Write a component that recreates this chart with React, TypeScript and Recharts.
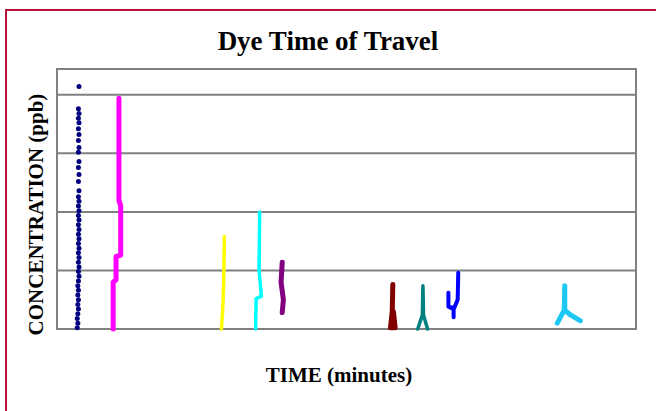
import { ScatterChart, Scatter, XAxis, YAxis, ReferenceArea, ReferenceLine } from "recharts";

// readings per station, x = time (min), y = concentration (ppb)
const station1 = [
  { x: 3.8, y: 20.7 }, { x: 3.7, y: 18.8 }, { x: 3.8, y: 18.4 }, { x: 3.7, y: 18.0 },
  { x: 3.8, y: 17.6 }, { x: 3.7, y: 17.1 }, { x: 3.8, y: 16.6 }, { x: 3.7, y: 16.1 },
  { x: 3.8, y: 15.5 }, { x: 3.7, y: 15.1 }, { x: 3.8, y: 14.3 }, { x: 3.7, y: 13.8 },
  { x: 3.8, y: 13.2 }, { x: 3.7, y: 12.6 }, { x: 3.8, y: 11.8 }, { x: 3.7, y: 11.3 },
  { x: 3.8, y: 10.9 }, { x: 3.7, y: 10.5 }, { x: 3.8, y: 10.1 }, { x: 3.7, y: 9.7 },
  { x: 3.8, y: 9.3 }, { x: 3.7, y: 8.9 }, { x: 3.8, y: 8.5 }, { x: 3.7, y: 8.1 },
  { x: 3.8, y: 7.7 }, { x: 3.7, y: 7.3 }, { x: 3.8, y: 6.9 }, { x: 3.7, y: 6.5 },
  { x: 3.8, y: 6.1 }, { x: 3.7, y: 5.7 }, { x: 3.8, y: 5.3 }, { x: 3.7, y: 4.9 },
  { x: 3.8, y: 4.5 }, { x: 3.7, y: 4.1 }, { x: 3.6, y: 3.7 }, { x: 3.7, y: 3.3 },
  { x: 3.6, y: 2.9 }, { x: 3.7, y: 2.5 }, { x: 3.6, y: 2.1 }, { x: 3.7, y: 1.7 },
  { x: 3.6, y: 1.3 }, { x: 3.5, y: 0.9 }, { x: 3.6, y: 0.5 }, { x: 3.5, y: 0.1 },
];
const station2 = [
  { x: 10.7, y: 19.7 }, { x: 10.7, y: 11.0 }, { x: 11.0, y: 10.5 }, { x: 11.0, y: 6.3 },
  { x: 10.2, y: 6.2 }, { x: 10.2, y: 4.2 }, { x: 9.7, y: 4.0 }, { x: 9.7, y: 0 },
];
const station3 = [
  { x: 28.9, y: 7.9 }, { x: 28.8, y: 4.0 }, { x: 28.6, y: 1.5 }, { x: 28.4, y: 0 },
];
const station4 = [
  { x: 35.0, y: 10.0 }, { x: 34.9, y: 5.0 }, { x: 35.3, y: 2.8 }, { x: 34.4, y: 2.6 }, { x: 34.3, y: 0 },
];
const station5 = [
  { x: 38.9, y: 5.7 }, { x: 38.7, y: 4.0 }, { x: 39.1, y: 2.5 }, { x: 38.9, y: 1.4 },
];
const station6 = [
  { x: 58.0, y: 3.8 }, { x: 57.9, y: 1.5 }, { x: 57.6, y: 0.1 }, { x: 58.4, y: 0.1 }, { x: 58.1, y: 1.5 },
];
const station7 = [
  { x: 62.3, y: 0 }, { x: 63.1, y: 1.2 }, { x: 63.2, y: 3.7 }, { x: 63.3, y: 1.2 }, { x: 64.0, y: 0 },
];
const station8 = [
  { x: 69.3, y: 4.8 }, { x: 69.2, y: 2.5 }, { x: 68.6, y: 1.8 }, { x: 67.6, y: 1.9 },
  { x: 67.6, y: 3.1 }, { x: 67.6, y: 1.9 }, { x: 68.5, y: 1.7 }, { x: 68.5, y: 1.0 },
];
const station9 = [
  { x: 86.4, y: 0.5 }, { x: 87.6, y: 1.6 }, { x: 87.7, y: 3.7 }, { x: 87.7, y: 1.6 },
  { x: 88.7, y: 1.2 }, { x: 90.4, y: 0.7 },
];

const traces = [
  { data: station2, color: "#ff00ff", width: 5 },
  { data: station3, color: "#ffff00", width: 3.5 },
  { data: station4, color: "#00ffff", width: 3.5 },
  { data: station5, color: "#800080", width: 5 },
  { data: station6, color: "#800000", width: 5 },
  { data: station7, color: "#008080", width: 3.5 },
  { data: station8, color: "#0000ff", width: 4 },
  { data: station9, color: "#1ec8f5", width: 5 },
];

const gridValues = [5, 10, 15, 20];
const yMax = 22.2;
const xMax = 100;

const serif = '"Liberation Serif", "Times New Roman", serif';

const noDot = () => <g />;

export default function App() {
  return (
    <div
      style={{
        position: "fixed",
        left: 0,
        top: 0,
        width: 656,
        height: 411,
        background: "#fff",
        overflow: "hidden",
        fontFamily: serif,
      }}
    >
      <div
        style={{
          position: "absolute",
          left: 5,
          top: 9,
          width: 660,
          height: 420,
          borderTop: "2px solid #b5123b",
          borderLeft: "2px solid #b5123b",
        }}
      />
      <ScatterChart width={656} height={411} margin={{ top: 69, right: 20, bottom: 82, left: 57 }}>
        <XAxis type="number" dataKey="x" domain={[0, xMax]} height={0} tick={false} axisLine={false} tickLine={false} />
        <YAxis type="number" dataKey="y" domain={[0, yMax]} width={0} tick={false} axisLine={false} tickLine={false} />
        <ReferenceArea x1={0} x2={xMax} y1={0} y2={yMax} fill="none" stroke="#808080" strokeWidth={2} fillOpacity={0} />
        {gridValues.map((v) => (
          <ReferenceLine key={v} y={v} stroke="#808080" strokeWidth={2} />
        ))}
        {traces.map((t, i) => (
          <Scatter
            key={i}
            data={t.data}
            line={{ stroke: t.color, strokeWidth: t.width, strokeLinejoin: "round", strokeLinecap: "round" }}
            lineType="joint"
            shape={noDot}
            isAnimationActive={false}
          />
        ))}
        <Scatter
          data={station1}
          shape={(p: any) => <circle cx={p.cx} cy={p.cy} r={2.5} fill="#000080" />}
          isAnimationActive={false}
        />
      </ScatterChart>
      <div
        style={{
          position: "absolute",
          left: 128,
          top: 28,
          width: 400,
          textAlign: "center",
          fontSize: 27,
          lineHeight: "27px",
          fontWeight: "bold",
        }}
      >
        Dye Time of Travel
      </div>
      <div
        style={{
          position: "absolute",
          left: 139,
          top: 365,
          width: 400,
          textAlign: "center",
          fontSize: 21,
          lineHeight: "21px",
          fontWeight: "bold",
        }}
      >
        TIME (minutes)
      </div>
      <div
        style={{
          position: "absolute",
          left: 36 - 150,
          top: 214 - 10.5,
          width: 300,
          height: 21,
          textAlign: "center",
          fontSize: 21,
          lineHeight: "21px",
          fontWeight: "bold",
          transform: "rotate(-90deg)",
        }}
      >
        CONCENTRATION (ppb)
      </div>
    </div>
  );
}
